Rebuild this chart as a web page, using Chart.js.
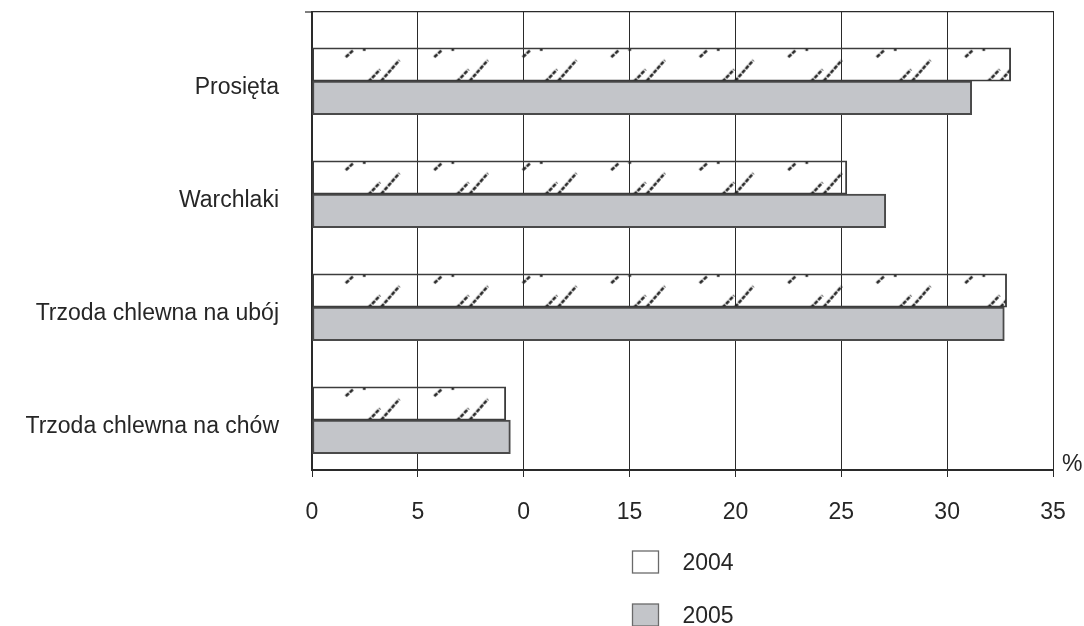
<!DOCTYPE html>
<html>
<head>
<meta charset="utf-8">
<script src="https://cdn.jsdelivr.net/npm/chart.js@4.4.1/dist/chart.umd.min.js"></script>
<style>
	body { margin: 0; background: #fff; }
	#box { width: 1084px; height: 626px; }
</style>
</head>
<body>
<div id="box"><canvas id="pigs"></canvas></div>
<script>
const categories = ['Prosięta', 'Warchlaki', 'Trzoda chlewna na ubój', 'Trzoda chlewna na chów'];
const years = ['2004', '2005'];
const values2004 = [33.0, 25.26, 32.81, 9.15];
const values2005 = [31.16, 27.1, 32.7, 9.37];
const tickLabels = ['0', '5', '0', '15', '20', '25', '30', '35'];
const unitLabel = '%';

const BAR_T = 33.4;
const ink = '#262626';

Chart.defaults.font.family = '"Liberation Sans", Arial, sans-serif';
Chart.defaults.font.size = 23;
Chart.defaults.color = ink;

// hatch tile for the 2004 bars
function seg(g, x1, y1, x2, y2) {
	g.beginPath();
	g.moveTo(x1, y1);
	g.lineTo(x2, y2);
	g.stroke();
}
const hatchTile = document.createElement('canvas');
hatchTile.width = 177;
hatchTile.height = 36;
(function () {
	const g = hatchTile.getContext('2d');
	g.strokeStyle = '#262626';
	g.fillStyle = '#262626';
	g.lineWidth = 2.6;
	g.lineCap = 'butt';
	g.setLineDash([4.2, 1.2]);
	[0, 88.5].forEach(ox => {
		seg(g, ox + 10, 9.3, ox + 17.6, 2.3);
		seg(g, ox + 32.6, 34, ox + 44.3, 21.6);
		seg(g, ox + 45.3, 33.3, ox + 63.6, 12.3);
		g.fillRect(ox + 27.2, 0.5, 2.6, 2.6);
	});
})();

function hatchFill(c) {
	const chart = c.chart;
	const xs = chart.scales.x, ys = chart.scales.y;
	if (c.type !== 'data' || !xs || !ys) return '#ffffff';
	const p = chart.ctx.createPattern(hatchTile, 'repeat');
	const tx = xs.getPixelForValue(0) + 23.7;
	const ty = ys.getPixelForValue(c.dataIndex) - BAR_T;
	p.setTransform(new DOMMatrix().translate(tx, ty));
	return p;
}

const extras = {
	id: 'extras',
	afterDraw(chart) {
		const g = chart.ctx;
		const a = chart.chartArea;
		g.save();
		g.font = '23px "Liberation Sans", Arial, sans-serif';
		g.fillStyle = ink;
		g.textBaseline = 'middle';
		g.textAlign = 'left';
		g.fillText(unitLabel, a.right + 9, a.bottom - 5);

		// small tick left of the top border
		g.strokeStyle = '#2a2a2a';
		g.lineWidth = 1.2;
		g.beginPath();
		g.moveTo(a.left - 7, a.top);
		g.lineTo(a.left, a.top);
		g.stroke();

		// legend, stacked under the plot
		const cx = (a.left + a.right) / 2;
		chart.data.datasets.forEach((ds, i) => {
			const y = a.bottom + 92 + i * 53;
			g.fillStyle = ds.legendFill;
			g.fillRect(cx - 50, y - 11, 26, 22);
			g.strokeStyle = '#6a6a6a';
			g.lineWidth = 1.3;
			g.strokeRect(cx - 50, y - 11, 26, 22);
			g.fillStyle = ink;
			g.fillText(ds.label, cx, y + 2);
		});
		g.restore();
	}
};

const ctx = document.getElementById('pigs').getContext('2d');

const pigChart = new Chart(ctx, {
	type: 'bar',
	data: {
		datasets: [{
			label: years[0],
			data: values2004.map((v, i) => ({x: v, y: i})),
			backgroundColor: hatchFill,
			legendFill: '#ffffff',
			borderColor: '#3c3c3c',
			borderWidth: 1.2,
			borderSkipped: false,
			barThickness: BAR_T
		}, {
			label: years[1],
			data: values2005.map((v, i) => ({x: v, y: i})),
			backgroundColor: '#c3c5c9',
			legendFill: '#c3c5c9',
			borderColor: '#4a4a4a',
			borderWidth: 2,
			borderSkipped: false,
			barThickness: BAR_T
		}]
	},
	options: {
		indexAxis: 'y',
		responsive: true,
		maintainAspectRatio: false,
		animation: false,
		events: [],
		layout: {
			padding: {top: 12, right: 31, left: 0, bottom: 0}
		},
		scales: {
			x: {
				type: 'linear',
				position: 'bottom',
				min: 0,
				max: 35,
				ticks: {
					stepSize: 5,
					padding: 22,
					callback: (v, i) => tickLabels[i]
				},
				grid: {
					color: '#2a2a2a',
					lineWidth: 1,
					tickLength: 7,
					tickColor: '#2a2a2a'
				},
				border: {color: '#2a2a2a', width: 2},
				afterFit: (s) => { s.height = 156; s.paddingLeft = 0; s.paddingRight = 0; }
			},
			x2: {
				type: 'linear',
				position: 'top',
				min: 0,
				max: 35,
				ticks: {display: false},
				grid: {display: false, drawTicks: false},
				border: {color: '#2a2a2a', width: 1.2},
				afterFit: (s) => { s.height = 0; s.paddingLeft = 0; s.paddingRight = 0; }
			},
			y: {
				type: 'linear',
				reverse: true,
				offset: false,
				bounds: 'data',
				min: -0.612,
				max: 3.441,
				z: 1,
				afterBuildTicks: (s) => { s.ticks = categories.map((c, i) => ({value: i})); },
				ticks: {
					padding: 33,
					labelOffset: 6,
					callback: (v) => categories[v] ?? ''
				},
				grid: {display: false, drawTicks: false, offset: false},
				border: {color: '#2a2a2a', width: 2},
				afterFit: (s) => { s.width = 312; s.paddingTop = 0; s.paddingBottom = 0; }
			}
		},
		plugins: {
			legend: {display: false},
			tooltip: {enabled: false}
		}
	},
	plugins: [extras]
});
</script>
</body>
</html>
